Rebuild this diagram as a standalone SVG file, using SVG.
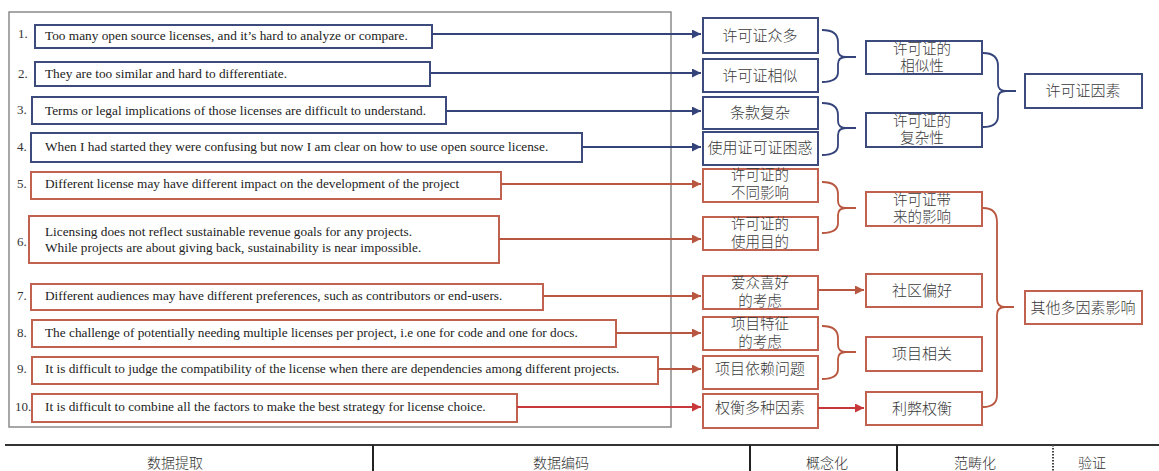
<svg xmlns="http://www.w3.org/2000/svg" width="1159" height="471" viewBox="0 0 1159 471">
<style>
.en{font-family:"Liberation Serif","Times New Roman",serif;font-size:13.3px;fill:#222}
.num{font-family:"Liberation Serif","Times New Roman",serif;font-size:13px;fill:#333}
.zh{font-family:"Noto Sans CJK SC","Noto Sans",sans-serif;font-size:15px;font-weight:300;fill:#3a3a3a;text-anchor:middle}
.z2{font-family:"Noto Sans CJK SC","Noto Sans",sans-serif;font-size:14.5px;font-weight:300;fill:#3a3a3a;text-anchor:middle}
.ft{font-family:"Noto Sans CJK SC","Noto Sans",sans-serif;font-size:14px;font-weight:300;fill:#333;text-anchor:middle}
.bb{fill:#fff;stroke:#3c4a7c;stroke-width:2}
.rb{fill:#fff;stroke:#c0624f;stroke-width:2}
.bl{fill:none;stroke:#34437a;stroke-width:1.8}
.rl{fill:none;stroke:#b9563f;stroke-width:1.8}
.rl2{fill:none;stroke:#c8383a;stroke-width:1.8}
</style>
<defs>
<marker id="ab" viewBox="0 0 10 10" refX="10" refY="5" markerWidth="5" markerHeight="5" orient="auto"><path d="M0,0 L10,5 L0,10 z" fill="#34437a"/></marker>
<marker id="ar" viewBox="0 0 10 10" refX="10" refY="5" markerWidth="5" markerHeight="5" orient="auto"><path d="M0,0 L10,5 L0,10 z" fill="#b9563f"/></marker>
<marker id="ar2" viewBox="0 0 10 10" refX="10" refY="5" markerWidth="5" markerHeight="5" orient="auto"><path d="M0,0 L10,5 L0,10 z" fill="#c8383a"/></marker>
</defs>
<rect width="1159" height="471" fill="#fff"/>
<rect id="extract-frame" x="9" y="12" width="662" height="415" fill="none" stroke="#8a8a8a" stroke-width="1.5"/>

<g id="q1"><text class="num" x="18" y="38">1.</text><rect class="bb" x="35" y="25" width="397" height="23"/><text class="en" x="45" y="40">Too many open source licenses, and it’s hard to analyze or compare.</text></g>
<g id="q2"><text class="num" x="18" y="78">2.</text><rect class="bb" x="35" y="62" width="395" height="24"/><text class="en" x="45" y="78">They are too similar and hard to differentiate.</text></g>
<g id="q3"><text class="num" x="17" y="114">3.</text><rect class="bb" x="32" y="97" width="414" height="27"/><text class="en" x="45" y="115">Terms or legal implications of those licenses are difficult to understand.</text></g>
<g id="q4"><text class="num" x="17" y="151">4.</text><rect class="bb" x="31" y="133" width="551" height="29"/><text class="en" x="45" y="151">When I had started they were confusing but now I am clear on how to use open source license.</text></g>
<g id="q5"><text class="num" x="17" y="188">5.</text><rect class="rb" x="31" y="172" width="470" height="27"/><text class="en" x="45" y="188">Different license may have different impact on the development of the project</text></g>
<g id="q6"><text class="num" x="17" y="246">6.</text><rect class="rb" x="29" y="216" width="470" height="47"/><text class="en" x="45" y="236">Licensing does not reflect sustainable revenue goals for any projects.<tspan x="45" dy="16">While projects are about giving back, sustainability is near impossible.</tspan></text></g>
<g id="q7"><text class="num" x="17" y="300">7.</text><rect class="rb" x="31" y="284" width="512" height="26"/><text class="en" x="45" y="300">Different audiences may have different preferences, such as contributors or end-users.</text></g>
<g id="q8"><text class="num" x="17" y="337">8.</text><rect class="rb" x="32" y="320" width="584" height="27"/><text class="en" x="45" y="337">The challenge of potentially needing multiple licenses per project, i.e one for code and one for docs.</text></g>
<g id="q9"><text class="num" x="17" y="373">9.</text><rect class="rb" x="32" y="357" width="626" height="27"/><text class="en" x="45" y="373">It is difficult to judge the compatibility of the license when there are dependencies among different projects.</text></g>
<g id="q10"><text class="num" x="15" y="411">10.</text><rect class="rb" x="32" y="394" width="485" height="28"/><text class="en" x="45" y="411">It is difficult to combine all the factors to make the best strategy for license choice.</text></g>

<g id="m1"><rect class="bb" x="703" y="18" width="115" height="35"/><text class="zh" x="760" y="41">许可证众多</text></g>
<g id="m2"><rect class="bb" x="703" y="59" width="115" height="33"/><text class="zh" x="760" y="81">许可证相似</text></g>
<g id="m3"><rect class="bb" x="703" y="97" width="115" height="32"/><text class="zh" x="760" y="118">条款复杂</text></g>
<g id="m4"><rect class="bb" x="703" y="132" width="115" height="33"/><text class="zh" x="760" y="153">使用证可证困惑</text></g>
<g id="m5"><rect class="rb" x="703" y="169" width="115" height="33"/><text class="z2" x="760" y="180">许可证的<tspan x="760" dy="18">不同影响</tspan></text></g>
<g id="m6"><rect class="rb" x="703" y="217" width="115" height="33"/><text class="z2" x="760" y="229">许可证的<tspan x="760" dy="18">使用目的</tspan></text></g>
<g id="m7"><rect class="rb" x="703" y="276" width="115" height="33"/><text class="z2" x="760" y="288">爱众喜好<tspan x="760" dy="18">的考虑</tspan></text></g>
<g id="m8"><rect class="rb" x="703" y="317" width="115" height="33"/><text class="z2" x="760" y="329">项目特征<tspan x="760" dy="18">的考虑</tspan></text></g>
<g id="m9"><rect class="rb" x="703" y="356" width="115" height="33"/><text class="zh" x="760" y="374">项目依赖问题</text></g>
<g id="m10"><rect class="rb" x="703" y="394" width="115" height="34"/><text class="zh" x="760" y="413">权衡多种因素</text></g>

<g id="c1"><rect class="bb" x="866" y="41" width="116" height="33"/><text class="z2" x="922" y="54">许可证的<tspan x="922" dy="17">相似性</tspan></text></g>
<g id="c2"><rect class="bb" x="866" y="113" width="116" height="34"/><text class="z2" x="922" y="126">许可证的<tspan x="922" dy="17">复杂性</tspan></text></g>
<g id="c3"><rect class="rb" x="866" y="192" width="116" height="34"/><text class="z2" x="922" y="205">许可证带<tspan x="922" dy="17">来的影响</tspan></text></g>
<g id="c4"><rect class="rb" x="866" y="274" width="116" height="33"/><text class="zh" x="922" y="296">社区偏好</text></g>
<g id="c5"><rect class="rb" x="866" y="337" width="116" height="34"/><text class="zh" x="922" y="359">项目相关</text></g>
<g id="c6"><rect class="rb" x="866" y="392" width="116" height="33"/><text class="zh" x="922" y="414">利弊权衡</text></g>

<g id="k1"><rect class="bb" x="1025" y="74" width="117" height="34"/><text class="zh" x="1083" y="96">许可证因素</text></g>
<g id="k2"><rect class="rb" x="1025" y="291" width="117" height="33"/><text class="zh" x="1083" y="313">其他多因素影响</text></g>

<g id="connectors">
<path class="bl" d="M432,34 H701" marker-end="url(#ab)"/>
<path class="bl" d="M430,73 H701" marker-end="url(#ab)"/>
<path class="bl" d="M446,111 H701" marker-end="url(#ab)"/>
<path class="bl" d="M582,147 H701" marker-end="url(#ab)"/>
<path class="rl" d="M501,184 H701" marker-end="url(#ar)"/>
<path class="rl" d="M499,239 H701" marker-end="url(#ar)"/>
<path class="rl" d="M543,296 H701" marker-end="url(#ar)"/>
<path class="rl" d="M616,333 H701" marker-end="url(#ar)"/>
<path class="rl" d="M658,369 H701" marker-end="url(#ar)"/>
<path class="rl2" d="M517,407 H701" marker-end="url(#ar2)"/>
<path class="rl" d="M818,290 H864" marker-end="url(#ar)"/>
<path class="rl2" d="M818,408 H864" marker-end="url(#ar2)"/>
<path class="bl" d="M822,30 Q838,30 838,42 V50 Q838,57 846,57 Q838,57 838,64 V72 Q838,82 822,82 M846,57 H856"/>
<path class="bl" d="M822,103 Q838,103 838,115 V121 Q838,128 846,128 Q838,128 838,135 V145 Q838,155 822,155 M846,128 H856"/>
<path class="bl" d="M983,53 Q998,53 998,66 V84 Q998,91 1006,91 Q998,91 998,98 V116 Q998,127 983,127 M1006,91 H1016"/>
<path class="rl" d="M822,182 Q838,182 838,194 V201 Q838,208 846,208 Q838,208 838,215 V223 Q838,233 822,233 M846,208 H856"/>
<path class="rl" d="M822,326 Q838,326 838,338 V345 Q838,352 846,352 Q838,352 838,359 V369 Q838,379 822,379 M846,352 H856"/>
<path class="rl" d="M983,208 Q997,208 997,222 V299 Q997,307 1005,307 Q997,307 997,315 V395 Q997,407 983,407 M1005,307 H1014"/>
</g>

<g id="phase-bar">
<line x1="5" y1="445" x2="1159" y2="445" stroke="#333" stroke-width="2"/>
<line x1="373" y1="445" x2="373" y2="471" stroke="#222" stroke-width="2"/>
<line x1="750" y1="445" x2="750" y2="471" stroke="#222" stroke-width="2"/>
<line x1="897" y1="445" x2="897" y2="471" stroke="#222" stroke-width="2"/>
<line x1="1053" y1="445" x2="1053" y2="471" stroke="#444" stroke-width="2" stroke-dasharray="1.5,1.5"/>
<text class="ft" x="175" y="468">数据提取</text>
<text class="ft" x="561" y="468">数据编码</text>
<text class="ft" x="827" y="468">概念化</text>
<text class="ft" x="975" y="468">范畴化</text>
<text class="ft" x="1092" y="468">验证</text>
</g>
</svg>
